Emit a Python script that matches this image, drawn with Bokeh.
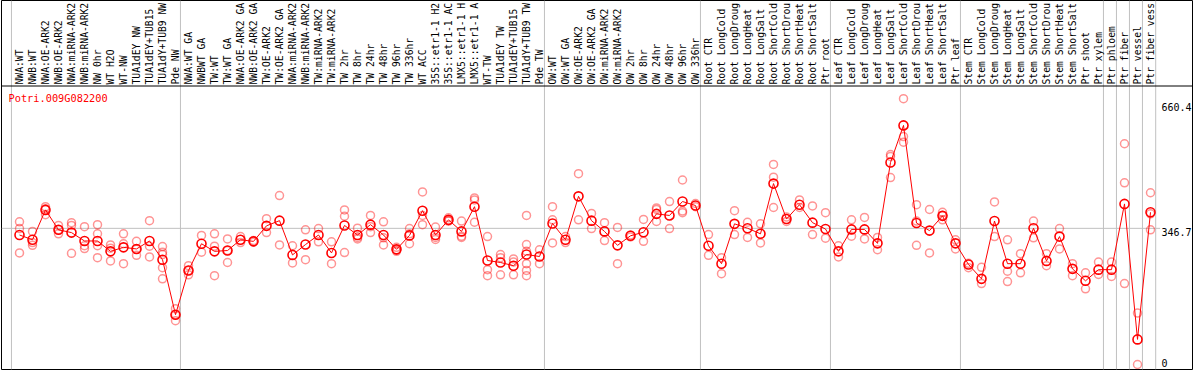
import math
from bokeh.plotting import figure
from bokeh.models import Range1d, ColumnDataSource
from bokeh.core.properties import value
from bokeh.embed import file_html
from bokeh.resources import INLINE

gene = "Potri.009G082200"

categories = [
    "NWA:WT", "NWB:WT", "NWA:OE-ARK2", "NWB:OE-ARK2", "NWA:miRNA-ARK2", "NWB:miRNA-ARK2",
    "NW 0hr", "WT H2O", "WT-NW", "TUA1dEY NW", "TUA1dEY+TUB15", "TUA1dY+TUB9 NW", "Pde NW",
    "NWA:WT GA", "NWBWT GA", "TW:WT", "TW:WT GA", "NWA:OE-ARK2 GA", "NWB:OE-ARK2 GA",
    "TW:OE-ARK2", "TW:OE-ARK2 GA", "NWA:miRNA-ARK2", "NWB:miRNA-ARK2", "TW:miRNA-ARK2",
    "TW:miRNA-ARK2", "TW 2hr", "TW 8hr", "TW 24hr", "TW 48hr", "TW 96hr", "TW 336hr",
    "WT ACC", "35S::etr1-1 H2", "35S::etr1-1 AC", "LMX5::etr1-1 H", "LMX5::etr1-1 A",
    "WT-TW", "TUA1dEY TW", "TUA1dEY+TUB15", "TUA1dY+TUB9 TW", "Pde TW",
    "OW:WT", "OW:WT GA", "OW:OE-ARK2", "OW:OE-ARK2 GA", "OW:miRNA-ARK2", "OW:miRNA-ARK2",
    "OW 2hr", "OW 8hr", "OW 24hr", "OW 48hr", "OW 96hr", "OW 336hr",
    "Root CTR", "Root LongCold", "Root LongDroug", "Root LongHeat", "Root LongSalt",
    "Root ShortCold", "Root ShortDrou", "Root ShortHeat", "Root ShortSalt", "Ptr root",
    "Leaf CTR", "Leaf LongCold", "Leaf LongDroug", "Leaf LongHeat", "Leaf LongSalt",
    "Leaf ShortCold", "Leaf ShortDrou", "Leaf ShortHeat", "Leaf ShortSalt", "Ptr leaf",
    "Stem CTR", "Stem LongCold", "Stem LongDroug", "Stem LongHeat", "Stem LongSalt",
    "Stem ShortCold", "Stem ShortDrou", "Stem ShortHeat", "Stem ShortSalt", "Ptr shoot", "Ptr xylem",
    "Ptr phloem", "Ptr fiber", "Ptr vessel", "Ptr fiber vess",
]

means = [
    330, 318, 393, 343, 336, 315, 315, 289, 299, 295, 315, 268, 130,
    241, 308, 289, 291, 318, 314, 353, 366, 280, 306, 330, 285, 354, 330, 356, 330,
    294, 329, 391, 330, 368, 339, 401, 266, 261, 253, 281, 276,
    359, 318, 427, 366, 339, 304, 328, 337, 383, 379, 414, 404,
    303, 258, 358, 347, 333, 459, 370, 406, 361, 345,
    289, 344, 344, 309, 512, 605, 360, 341, 378, 309,
    256, 220, 365, 258, 258, 347, 265, 326, 245, 215, 243,
    243, 408, 68, 387,
]

replicates = [
    [363, 346, 285], [339, 311, 304], [401, 396, 381], [354, 343, 333], [361, 354, 284],
    [351, 303, 296], [356, 333, 303, 273], [305, 297, 265], [333, 308, 258], [314, 294, 279],
    [366, 302, 275], [301, 287, 281, 248, 220], [145, 130, 115],
    [253, 241, 230], [329, 287], [333, 302, 228], [320, 291, 261], [326, 311], [316, 312],
    [371, 336], [429, 305], [303, 260], [343, 268], [346, 313], [313, 258], [393, 377, 286],
    [347, 324, 320], [379, 351, 336], [363, 323, 305], [299, 292, 289], [346, 333, 308],
    [438, 379, 356], [350, 324, 319], [373, 366, 365], [365, 327, 324], [423, 418, 362],
    [326, 243, 228], [281, 273, 230], [270, 262, 230], [379, 306, 289, 258, 241, 228], [293, 258],
    [401, 368, 310], [326, 311], [484, 368], [384, 346], [361, 316], [349, 258], [330, 325],
    [369, 314], [398, 394, 364], [414, 346], [468, 390, 386], [409, 401],
    [331, 279], [273, 233], [391, 331], [362, 324], [358, 310], [507, 475, 399], [375, 364],
    [418, 399], [403, 331], [386, 322],
    [303, 275], [368, 327], [374, 320], [324, 293], [532, 527, 474], [672, 577, 563],
    [406, 365, 304], [394, 285], [387, 379, 368], [318, 295],
    [259, 248], [249, 208], [413, 326], [318, 239, 213], [283, 235], [365, 323], [283, 253],
    [346, 295], [258, 228], [235, 195], [262, 231],
    [262, 226], [559, 461, 208], [134, 5], [436, 383, 343],
]

group_starts = [0, 13, 41, 53, 63, 73, 84, 85, 86, 87]
tick_values = [0, 346.7, 660.4]
tick_labels = ["0", "346.7", "660.4"]

# ---- layout (pixels) ----
W, H = 1194, 370
BL, BR, BT, BB = 1, 2, 0, 1
frame_w = W - BL - BR
frame_h = H - BT - BB
step = 13.0          # px per category
first_px = 19.0      # centre of first category
x_start = -(first_px - BL) / step
x_end = x_start + frame_w / step

k = 0.3985           # px per expression unit
zero_px = 366.0      # pixel row of value 0
y_end = (zero_px - BT) / k
y_start = y_end - frame_h / k

n = len(categories)
xs = list(range(n))

p = figure(width=W, height=H, output_backend="svg", toolbar_location=None,
           x_range=Range1d(x_start, x_end), y_range=Range1d(y_start, y_end),
           x_axis_location=None, y_axis_location=None,
           min_border_left=BL, min_border_right=BR, min_border_top=BT, min_border_bottom=BB)
p.extra_y_ranges = {"hdr": Range1d(start=frame_h, end=0)}
p.xgrid.visible = False
p.ygrid.visible = False
p.outline_line_color = "black"
p.outline_line_width = 1
p.background_fill_color = "white"
p.border_fill_color = "white"

grid_col = "#c0c0c0"
mono = value("DejaVu Sans Mono")

# vertical group separators
gx = [g - 0.62 for g in group_starts] + [n - 1 + 0.4]
p.segment(x0=gx, y0=[0] * len(gx), x1=gx, y1=[frame_h] * len(gx),
          y_range_name="hdr", line_color=grid_col, line_width=1)

# header separator line
p.segment(x0=[x_start], y0=[85.5], x1=[x_end], y1=[85.5], y_range_name="hdr",
          line_color="black", line_width=1)

# reference horizontal line
lbl_x = (1161 - first_px) / step
p.segment(x0=[x_start], y0=[tick_values[1]], x1=[lbl_x - 0.1], y1=[tick_values[1]],
          line_color=grid_col, line_width=1)

# category labels (rotated)
p.text(x=xs, y=[84] * n, text=categories, angle=math.pi / 2, y_range_name="hdr",
       text_align="left", text_baseline="middle", text_font=mono,
       text_font_size="9.7px", text_color="black")

# gene name
p.text(x=[(8 - first_px) / step], y=[97], text=[gene], y_range_name="hdr",
       text_align="left", text_baseline="middle", text_font=mono,
       text_font_size="10.3px", text_color="red")

# right value labels
tsrc = ColumnDataSource(dict(x=[lbl_x] * 3, y=tick_values, t=tick_labels, off=[-4, 4, 4]))
p.text(x="x", y="y", text="t", y_offset="off", source=tsrc, text_align="left",
       text_baseline="middle", text_font=mono, text_font_size="10px", text_color="black")

# replicates
rx = [i for i, rs in enumerate(replicates) for _ in rs]
ry = [v for rs in replicates for v in rs]
p.scatter(rx, ry, marker="circle", size=8, fill_color=None,
          line_color="red", line_alpha=0.42, line_width=1.5)

# mean line and markers
p.line(xs, means, line_color="red", line_width=1)
p.scatter(xs, means, marker="circle", size=9, fill_color=None,
          line_color="red", line_width=1.6)

open("out.html", "w").write(file_html(p, INLINE))
